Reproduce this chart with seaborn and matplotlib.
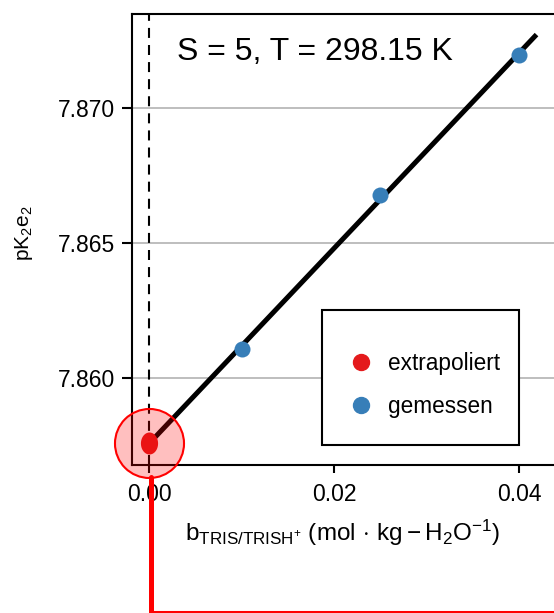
import numpy as np
import pandas as pd
import matplotlib
matplotlib.use("Agg")
import matplotlib.pyplot as plt
from matplotlib.lines import Line2D
from matplotlib.patches import Rectangle
from matplotlib.path import Path
from matplotlib.markers import MarkerStyle
import seaborn as sns

# pK values measured at three TRIS/TRISH+ molalities
b_measured = [0.010, 0.025, 0.040]
pk_measured = [7.8611, 7.86676, 7.87196]
# value extrapolated to infinite dilution
b_extrap = [0.0]
pk_extrap = [7.8576]
# straight-line fit through the measurements
fit_b = [0.0, 0.0419]
fit_pk = [7.8576, 7.8727]

x_ticks = [0.00, 0.02, 0.04]
x_tick_labels = ["0.00", "0.02", "0.04"]
y_ticks = [7.860, 7.865, 7.870]
y_tick_labels = ["7.860", "7.865", "7.870"]
legend_labels = ["extrapoliert", "gemessen"]
palette = {"extrapoliert": "#E41A1C", "gemessen": "#377EB8"}

sns.set_style("white")
plt.rcParams["font.family"] = ["Liberation Sans", "DejaVu Sans"]
plt.rcParams["mathtext.fontset"] = "custom"
plt.rcParams["mathtext.rm"] = "Liberation Sans"
plt.rcParams["mathtext.it"] = "Liberation Sans:italic"
plt.rcParams["mathtext.bf"] = "Liberation Sans:bold"
for key in ["text.color", "axes.labelcolor", "xtick.color", "ytick.color",
            "axes.edgecolor"]:
    plt.rcParams[key] = "black"

W, H = 554, 613
fig = plt.figure(figsize=(W / 100, H / 100), dpi=100)


def fx(px):
    return px / W


def fy(py):
    return 1 - py / H


ax = fig.add_axes([fx(132), fy(465), (560 - 132) / W, (465 - 14) / H])
ax.set_xlim(-0.00187, 0.04444)
ax.set_ylim(7.8568, 7.87346)

# horizontal grid only
ax.set_axisbelow(True)
ax.yaxis.grid(True, color="#BEBEBE", lw=1.4)
ax.xaxis.grid(False)

# reference line at b = 0
ax.axvline(0, color="black", lw=1.5, ls=(0, (4.8, 3.4)), zorder=2)

# fit line
sns.lineplot(x=fit_b, y=fit_pk, color="black", lw=3.6, ax=ax, zorder=3,
             solid_capstyle="butt")

# measured points
sns.scatterplot(x=b_measured, y=pk_measured, color=palette["gemessen"],
                s=133, linewidth=0, ax=ax, zorder=4, legend=False)

# extrapolated point (slightly elongated marker)
t = np.linspace(0, 2 * np.pi, 61)
ell = Path(np.column_stack([0.78 * np.cos(t), np.sin(t)]))
sns.scatterplot(x=b_extrap, y=pk_extrap, color=palette["extrapoliert"],
                marker=MarkerStyle(ell), s=251, linewidth=0, ax=ax,
                zorder=5, legend=False)

# highlight ring around the extrapolated value
ax.scatter(b_extrap, pk_extrap, s=2470, facecolor=(1, 0, 0, 0.25),
           edgecolor="red", linewidth=1.5, clip_on=False, zorder=6)

# ticks and spines
ax.set_xticks(x_ticks)
ax.set_xticklabels(x_tick_labels)
ax.set_yticks(y_ticks)
ax.set_yticklabels(y_tick_labels)
ax.tick_params(axis="y", length=7.2, width=1.5, labelsize=16.5, pad=5,
               color="black", labelcolor="black", direction="out", left=True)
ax.tick_params(axis="x", length=5.8, width=1.5, labelsize=16.5, pad=7,
               color="black", labelcolor="black", direction="out", bottom=True)
for side in ["left", "bottom", "top"]:
    ax.spines[side].set_visible(True)
    ax.spines[side].set_color("black")
    ax.spines[side].set_linewidth(1.5)
ax.spines["right"].set_visible(False)

# axis labels
ax.set_xlabel(r"$\mathrm{b}_{\mathrm{TRIS/TRISH^{+}}}\ (\mathrm{mol}\,\cdot\,\mathrm{kg}-\mathrm{H}_2\mathrm{O}^{-1})$",
              fontsize=17.5, color="black")
ax.xaxis.set_label_coords((342 - 132) / 428, -(533 - 465) / 451)
ax.xaxis.label.set_va("center")
ax.set_ylabel(r"pK$_2$e$_2$", fontsize=15, color="black")
ax.yaxis.set_label_coords((24 - 132) / 428, (465 - 233) / 451)
ax.yaxis.label.set_va("center")

# condition label
fig.text(fx(176.7), fy(51.7), "S = 5, T = 298.15 K", fontsize=23,
         ha="left", va="center", color="black")

# legend with a plain square frame
ax.add_patch(Rectangle((fx(322), fy(445)), fx(519) - fx(322), fy(310) - fy(445),
                       transform=fig.transFigure, facecolor="white",
                       edgecolor="black", lw=1.5, clip_on=False, zorder=4.5))
handles = [Line2D([], [], marker="o", ls="", color=palette[k], markersize=11.5)
           for k in legend_labels]
ax.legend(handles, legend_labels, loc="center left",
          bbox_to_anchor=(fx(353), fy(385)), bbox_transform=fig.transFigure,
          frameon=False, borderpad=0, borderaxespad=0, handlelength=0.7,
          handletextpad=0.84, labelspacing=0.9, fontsize=16.3,
          labelcolor="black")

# connector leading down from the highlighted value
fig.add_artist(Line2D([fx(151), fx(151)], [fy(477), fy(613)], color="red",
                      lw=3.6, transform=fig.transFigure, zorder=10))
fig.add_artist(Line2D([fx(151), fx(554)], [fy(612), fy(612)], color="red",
                      lw=1.5, transform=fig.transFigure, zorder=10))

fig.savefig("out.png", dpi=100)
